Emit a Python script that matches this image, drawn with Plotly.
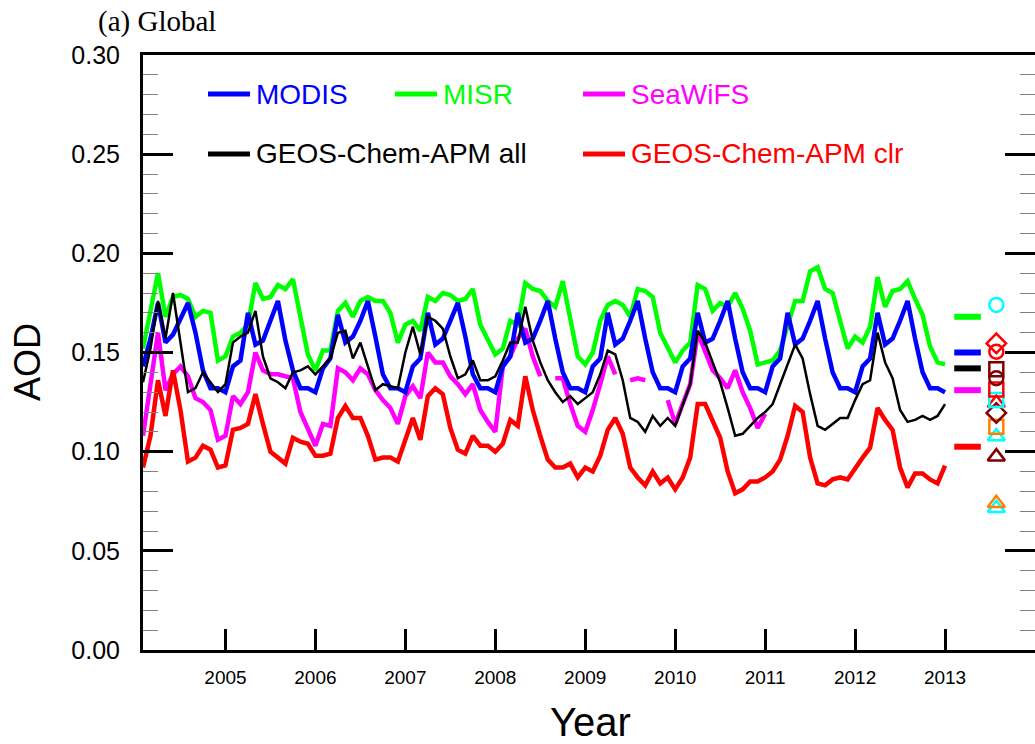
import plotly.graph_objects as go

# ---------------- data (monthly, Jan 2004 - Dec 2012) ----------------
n_months = 108
start_year = 2004

modis = [
    0.143, 0.157, 0.175, 0.155, 0.159, 0.167, 0.175, 0.160, 0.141, 0.132, 0.132, 0.130,
    0.143, 0.146, 0.170, 0.154, 0.156, 0.166, 0.176, 0.156, 0.141, 0.132, 0.132, 0.130,
    0.142, 0.147, 0.169, 0.155, 0.158, 0.166, 0.176, 0.158, 0.139, 0.132, 0.132, 0.130,
    0.143, 0.147, 0.170, 0.154, 0.157, 0.166, 0.175, 0.158, 0.139, 0.132, 0.132, 0.130,
    0.143, 0.148, 0.170, 0.155, 0.157, 0.166, 0.176, 0.157, 0.140, 0.132, 0.132, 0.130,
    0.143, 0.147, 0.170, 0.154, 0.157, 0.166, 0.176, 0.157, 0.140, 0.132, 0.132, 0.130,
    0.143, 0.147, 0.170, 0.155, 0.157, 0.166, 0.176, 0.157, 0.140, 0.132, 0.132, 0.130,
    0.143, 0.147, 0.170, 0.154, 0.157, 0.166, 0.176, 0.157, 0.140, 0.132, 0.132, 0.130,
    0.143, 0.147, 0.170, 0.154, 0.157, 0.166, 0.176, 0.157, 0.140, 0.132, 0.132, 0.130,
]

misr = [
    0.152, 0.171, 0.190, 0.168, 0.178, 0.179, 0.177, 0.168, 0.171, 0.170, 0.146, 0.148,
    0.158, 0.160, 0.164, 0.185, 0.177, 0.178, 0.184, 0.182, 0.187, 0.168, 0.149, 0.141,
    0.151, 0.151, 0.171, 0.175, 0.168, 0.176, 0.178, 0.176, 0.176, 0.170, 0.155, 0.164,
    0.166, 0.161, 0.178, 0.176, 0.180, 0.179, 0.176, 0.177, 0.182, 0.164, 0.156, 0.149,
    0.152, 0.166, 0.164, 0.185, 0.182, 0.181, 0.176, 0.173, 0.186, 0.166, 0.148, 0.144,
    0.150, 0.166, 0.174, 0.176, 0.174, 0.168, 0.182, 0.181, 0.178, 0.160, 0.152, 0.145,
    0.151, 0.155, 0.184, 0.182, 0.171, 0.175, 0.173, 0.180, 0.172, 0.161, 0.144, 0.145,
    0.146, 0.151, 0.164, 0.176, 0.176, 0.191, 0.193, 0.182, 0.180, 0.166, 0.152, 0.158,
    0.155, 0.163, 0.188, 0.173, 0.181, 0.182, 0.186, 0.177, 0.169, 0.153, 0.145, 0.144,
]

seawifs = [
    0.108, 0.135, 0.160, 0.131, 0.139, 0.143, 0.138, 0.127, 0.125, 0.121, 0.106, 0.108,
    0.128, 0.124, 0.130, 0.150, 0.141, 0.139, 0.139, 0.138, 0.137, 0.120, 0.111, 0.103,
    0.114, 0.113, 0.142, 0.140, 0.136, 0.142, 0.139, 0.131, 0.126, 0.122, 0.114, 0.128,
    0.133, 0.127, 0.150, 0.145, 0.145, 0.138, 0.134, 0.129, 0.134, 0.121, 0.115, 0.110,
    0.143, 0.148, 0.157, 0.162, 0.148, 0.138, None, 0.137, 0.137, 0.124, 0.113, 0.110,
    0.121, 0.134, 0.148, 0.139, None, 0.136, 0.137, 0.136, None, None, 0.126, 0.114,
    0.124, 0.134, 0.160, 0.151, 0.141, 0.137, 0.132, 0.141, 0.130, 0.122, 0.112, 0.119,
    None, None, None, None, None, None, None, None, None, None, None, None,
    None, None, None, None, None, None, None, None, None, None, None, None,
]

apm_all = [
    0.135, 0.152, 0.176, 0.157, 0.180, 0.156, 0.130, 0.132, 0.140, 0.135, 0.130, 0.134,
    0.155, 0.158, 0.160, 0.171, 0.148, 0.137, 0.135, 0.132, 0.140, 0.141, 0.143, 0.139,
    0.143, 0.147, 0.160, 0.161, 0.147, 0.155, 0.143, 0.131, 0.134, 0.133, 0.132, 0.150,
    0.163, 0.149, 0.168, 0.166, 0.162, 0.148, 0.137, 0.139, 0.146, 0.136, 0.136, 0.138,
    0.146, 0.155, 0.155, 0.173, 0.156, 0.145, 0.136, 0.130, 0.125, 0.128, 0.124, 0.127,
    0.130, 0.139, 0.151, 0.149, 0.136, 0.117, 0.115, 0.110, 0.118, 0.113, 0.117, 0.113,
    0.124, 0.134, 0.161, 0.155, 0.145, 0.135, 0.122, 0.108, 0.109, 0.113, 0.117, 0.120,
    0.124, 0.134, 0.144, 0.154, 0.147, 0.129, 0.113, 0.111, 0.114, 0.117, 0.117, 0.126,
    0.134, 0.136, 0.160, 0.145, 0.137, 0.121, 0.115, 0.116, 0.118, 0.116, 0.118, 0.124,
]

apm_clr = [
    0.092, 0.108, 0.136, 0.118, 0.141, 0.121, 0.095, 0.097, 0.103, 0.101, 0.092, 0.093,
    0.111, 0.112, 0.114, 0.129, 0.114, 0.100, 0.097, 0.094, 0.107, 0.105, 0.104, 0.098,
    0.098, 0.099, 0.117, 0.123, 0.117, 0.117, 0.108, 0.096, 0.097, 0.097, 0.095, 0.106,
    0.117, 0.106, 0.128, 0.132, 0.129, 0.112, 0.101, 0.099, 0.108, 0.103, 0.103, 0.100,
    0.104, 0.116, 0.113, 0.138, 0.121, 0.108, 0.096, 0.092, 0.092, 0.094, 0.087, 0.092,
    0.090, 0.098, 0.111, 0.117, 0.109, 0.092, 0.087, 0.083, 0.090, 0.084, 0.087, 0.081,
    0.087, 0.097, 0.124, 0.124, 0.116, 0.107, 0.090, 0.079, 0.081, 0.085, 0.085, 0.087,
    0.090, 0.096, 0.108, 0.123, 0.120, 0.097, 0.084, 0.083, 0.086, 0.087, 0.086, 0.092,
    0.097, 0.102, 0.122, 0.116, 0.111, 0.092, 0.082, 0.089, 0.089, 0.086, 0.084, 0.093,
]

series_names = ["MODIS", "MISR", "SeaWiFS", "GEOS-Chem-APM all", "GEOS-Chem-APM clr"]
series_colors = ["#0000FF", "#00FF00", "#FF00FF", "#000000", "#FF0000"]
series_values = [modis, misr, seawifs, apm_all, apm_clr]
series_widths = [4.5, 4.5, 4.5, 2.5, 4.5]

# period means shown as short dashes at the right (same order as series)
mean_values = [0.150, 0.168, 0.131, 0.142, 0.1025]
mean_x = 2013.25

# other estimates shown as open symbols at the right
other_x = 2013.57
other_values = [0.174, 0.1546, 0.1504, 0.1415, 0.137, 0.1314, 0.126, 0.1245,
                0.1195, 0.1126, 0.1076, 0.0975, 0.074, 0.0715]
other_symbols = ["circle-open", "diamond-open", "circle-open", "square-open",
                 "circle-open", "square-open", "square-open", "triangle-up-open",
                 "diamond-open", "square-open", "triangle-up-open",
                 "triangle-up-open", "triangle-up-open", "triangle-up-open"]
other_colors = ["#00FFFF", "#FF0000", "#FF0000", "#800000", "#800000", "#FF0000",
                "#00FFFF", "#FF0000", "#800000", "#FF8000", "#00FFFF", "#800000",
                "#FF8000", "#00FFFF"]

year_ticks = [2005, 2006, 2007, 2008, 2009, 2010, 2011, 2012, 2013]

x_months = [start_year + (k + 1) / 12 for k in range(n_months)]

# ---------------- figure ----------------
W, H = 1035, 744
L, R, T, B = 143, 0, 55, 94
PW, PH = W - L - R, H - T - B


def px(xp):
    return (xp - L) / PW


def py(yp):
    return (H - B - yp) / PH


fig = go.Figure()

draw_order = [2, 1, 0, 4, 3]
for k in draw_order:
    fig.add_trace(go.Scatter(
        x=x_months, y=series_values[k], mode="lines", name=series_names[k],
        line=dict(color=series_colors[k], width=series_widths[k]),
        connectgaps=False, showlegend=False))

for v, c in zip(mean_values, series_colors):
    fig.add_trace(go.Scatter(
        x=[mean_x], y=[v], mode="markers",
        marker=dict(symbol="line-ew", size=19, color=c,
                    line=dict(color=c, width=6)),
        showlegend=False))

symbol_sizes = {"circle-open": 14, "square-open": 14,
                "diamond-open": 15, "triangle-up-open": 15}
for v, s, c in zip(other_values[::-1], other_symbols[::-1], other_colors[::-1]):
    fig.add_trace(go.Scatter(
        x=[other_x], y=[v], mode="markers",
        marker=dict(symbol=s, size=symbol_sizes[s],
                    color=c, line=dict(color=c, width=2.5)),
        showlegend=False))

annotations = []
shapes = []

# legend built from text + short lines
legend_items = [
    (0, 208, 94), (1, 395, 94), (2, 583, 94),
    (3, 208, 154), (4, 583, 154),
]
for k, x0, y0 in legend_items:
    shapes.append(dict(type="line", xref="paper", yref="paper",
                       x0=px(x0), x1=px(x0 + 42), y0=py(y0), y1=py(y0),
                       line=dict(color=series_colors[k], width=5)))
    annotations.append(dict(text=series_names[k], xref="paper", yref="paper",
                            x=px(x0 + 46), y=py(y0), xanchor="left", yanchor="middle",
                            showarrow=False,
                            font=dict(family="Liberation Sans", size=28,
                                      color=series_colors[k])))

annotations.append(dict(text="(a) Global", xref="paper", yref="paper",
                        x=px(96), y=py(22), xanchor="left", yanchor="middle",
                        showarrow=False,
                        font=dict(family="Liberation Serif", size=29, color="black")))
annotations.append(dict(text="Year", xref="paper", yref="paper",
                        x=px(590), y=py(722), xanchor="center", yanchor="middle",
                        showarrow=False,
                        font=dict(family="Liberation Sans", size=40, color="black")))
annotations.append(dict(text="AOD", xref="paper", yref="paper",
                        x=px(28), y=py(362), xanchor="center", yanchor="middle",
                        textangle=-90, showarrow=False,
                        font=dict(family="Liberation Sans", size=36, color="black")))

fig.update_layout(
    width=W, height=H,
    margin=dict(l=L, r=R, t=T, b=B, autoexpand=False),
    paper_bgcolor="white", plot_bgcolor="white",
    showlegend=False,
    annotations=annotations, shapes=shapes,
    xaxis=dict(
        range=[start_year + 1 / 12, 2014.0],
        tickmode="array", tickvals=year_ticks, ticktext=[str(y) for y in year_ticks],
        ticks="inside", ticklen=21, tickwidth=3, tickcolor="black",
        showline=True, linewidth=3, linecolor="black", mirror=True,
        showgrid=False, zeroline=False,
        tickfont=dict(family="Liberation Sans", size=19, color="black"),
        ticklabelstandoff=8,
    ),
    yaxis=dict(
        range=[0, 0.30], dtick=0.05, tickformat=".2f",
        ticks="inside", ticklen=30, tickwidth=3, tickcolor="black",
        minor=dict(dtick=0.01, ticks="inside", ticklen=15, tickwidth=1,
                   tickcolor="#808080"),
        showline=True, linewidth=3, linecolor="black", mirror="ticks",
        showgrid=False, zeroline=False,
        tickfont=dict(family="Liberation Sans", size=25, color="black"),
        ticklabelstandoff=15,
    ),
)

fig.write_html("out.html")
